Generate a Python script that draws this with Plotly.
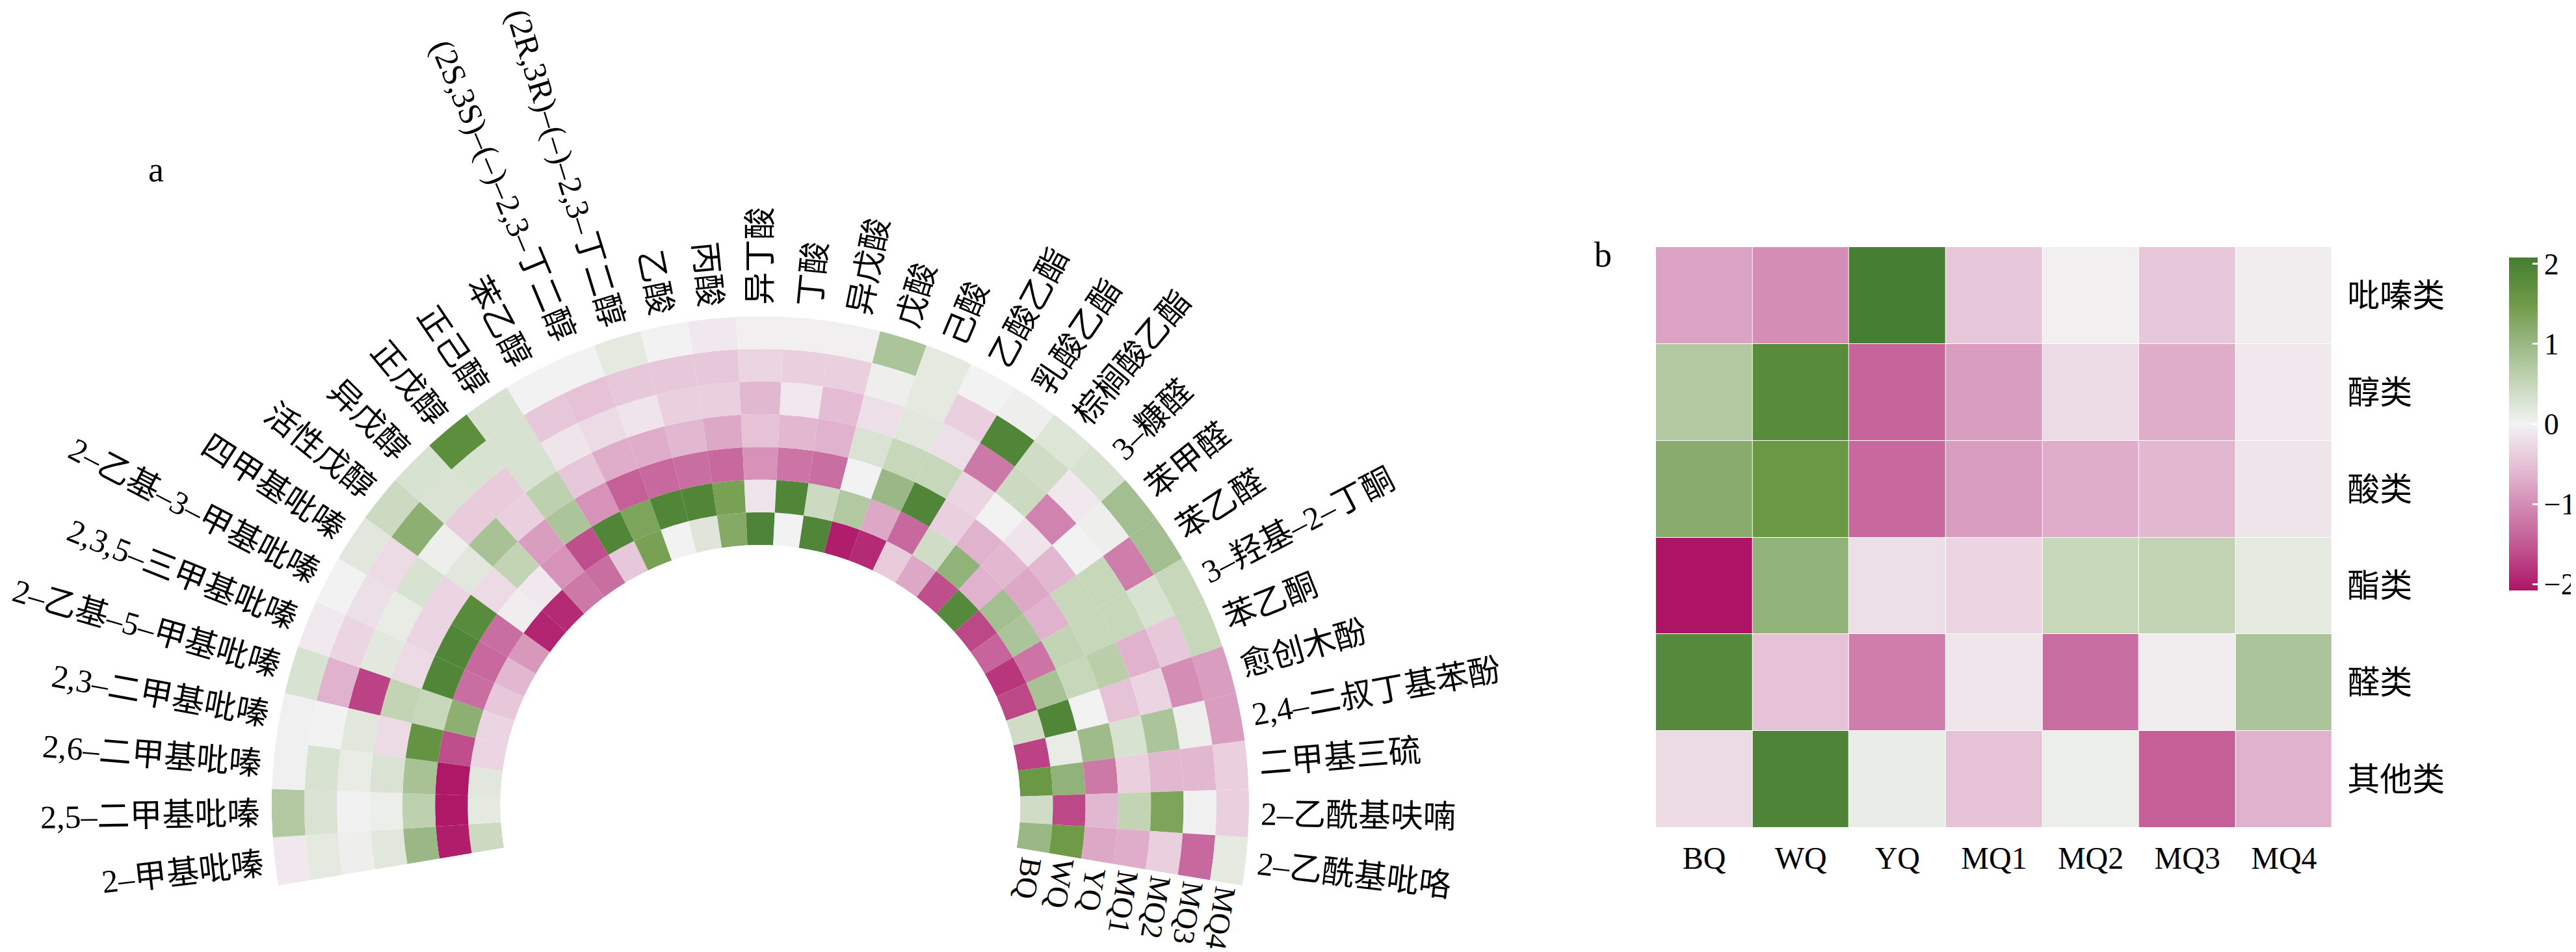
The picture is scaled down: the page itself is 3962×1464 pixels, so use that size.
import numpy as np
import plotly.graph_objects as go

# ---- data -------------------------------------------------------------
samples = ['BQ', 'WQ', 'YQ', 'MQ1', 'MQ2', 'MQ3', 'MQ4']

compounds = ['2–甲基吡嗪', '2,5–二甲基吡嗪', '2,6–二甲基吡嗪', '2,3–二甲基吡嗪',
             '2–乙基–5–甲基吡嗪', '2,3,5–三甲基吡嗪', '2–乙基–3–甲基吡嗪', '四甲基吡嗪',
             '活性戊醇', '异戊醇', '正戊醇', '正己醇', '苯乙醇',
             '(2S,3S)–(–)–2,3–丁二醇', '(2R,3R)–(–)–2,3–丁二醇',
             '乙酸', '丙酸', '异丁酸', '丁酸', '异戊酸', '戊酸', '己酸',
             '乙酸乙酯', '乳酸乙酯', '棕榈酸乙酯',
             '3–糠醛', '苯甲醛', '苯乙醛', '3–羟基–2–丁酮', '苯乙酮',
             '愈创木酚', '2,4–二叔丁基苯酚', '二甲基三硫', '2–乙酰基呋喃', '2–乙酰基吡咯']

# z-scores per sample (one value per compound, same order as above)
bq = [0.45, 0.15, 0.2, -0.3, -0.3, -0.45, -0.6, -0.9, -1.95, -1.9, -1.2, -1.3, -0.45, 1.4, 0.0,
      0.22, 1.25, 1.95, 0.0, 1.9, -2.0, -1.9, -0.4, -0.75, -1.6, 1.85, -1.65, -1.4, -1.8, -1.65,
      0.4, -1.7, 1.55, 0.4, 1.0]
wq = [-2.0, -2.05, -2.05, -1.6, 1.15, -1.3, -1.35, -1.3, -0.05, -0.1, -0.95, -1.6, 1.9, 1.35, 1.9,
      1.9, 1.4, -0.15, 1.9, 0.45, 0.75, -0.75, -1.35, 0.4, 1.1, -0.65, 0.9, 0.8, -1.25, 0.85,
      1.9, 0.12, 1.1, -1.65, 1.5]
yq = [1.0, 0.6, 0.85, 1.65, 0.5, 1.9, 1.9, 1.8, -0.25, 0.55, -0.85, 0.8, -0.95, -1.45, -1.35,
      -1.3, -1.35, -0.95, -1.25, -1.3, 0.0, 1.0, 1.9, -0.35, -0.65, -0.6, -0.75, -0.65, 0.55, 0.5,
      0.0, 0.95, -1.2, -0.6, -0.75]
mq1 = [0.2, 0.07, 0.28, -0.25, 0.55, -0.25, -0.3, -0.3, 0.2, 0.85, -0.35, 0.6, -0.45, -0.7, -0.7,
       -0.6, -0.75, -0.5, -0.6, -0.65, 0.28, 0.5, 0.5, -0.3, 0.0, -0.15, -0.6, 0.5, 0.5, 0.65,
       -0.5, 0.3, -0.35, 0.55, -0.7]
mq2 = [0.05, 0.02, 0.12, 0.2, -1.7, 0.18, 0.12, 0.3, 0.05, -0.4, -0.4, 0.3, -0.15, -0.25, -0.15,
       -0.35, -0.35, -0.6, -0.1, -0.55, -0.2, 0.2, -0.2, -1.2, 0.45, -1.1, 0.0, 0.5, 0.5, -0.65,
       -0.3, 0.8, -0.6, 1.35, -0.35]
mq3 = [0.15, 0.28, 0.3, 0.0, -0.65, -0.3, -0.2, -0.25, 1.15, 0.28, 0.3, 0.3, -0.45, -0.5, -0.45,
       -0.45, -0.45, -0.3, -0.35, -0.35, 0.05, 0.15, -0.35, 1.9, 0.4, -0.1, 0.05, -1.15, 0.3, -0.45,
       -1.0, 0.05, -0.6, 0.03, -1.35]
mq4 = [-0.1, 0.75, 0.03, 0.03, 0.3, -0.08, 0.0, 0.2, 0.45, 0.3, 1.75, 0.3, 0.0, 0.0, 0.15,
       0.0, -0.1, -0.03, -0.03, -0.03, 0.8, 0.15, 0.0, 0.05, 0.25, 0.3, 0.9, 0.9, 0.5, 0.5,
       -0.85, -0.85, -0.35, -0.35, 0.15]

# panel b: class totals (z-score per sample)
classes = ['吡嗪类', '醇类', '酸类', '酯类', '醛类', '其他类']
pyrazines = [-0.8, -1.0, 2.05, -0.45, -0.03, -0.45, -0.05]
alcohols = [0.75, 1.8, -1.4, -0.85, -0.25, -0.7, -0.1]
acids = [1.2, 1.55, -1.35, -0.85, -0.7, -0.6, -0.15]
esters = [-2.1, 1.1, -0.2, -0.3, 0.5, 0.55, 0.15]
aldehydes = [1.85, -0.5, -1.15, -0.12, -1.3, -0.05, 0.8]
others = [-0.25, 1.95, 0.1, -0.5, 0.08, -1.45, -0.65]

# ---- style / geometry -------------------------------------------------
W, H = 3962, 1464
FONT = "'Liberation Serif', 'Noto Sans CJK SC', serif"
VMIN, VMAX = -2.08, 2.08
stops = [(-2.08, '#AD1465'), (-1.5, '#C25A94'), (-1.0, '#D48DB5'), (-0.5, '#E6C2D7'),
         (0.0, '#F2F2F2'), (0.5, '#C7D7BA'), (1.0, '#9AB885'), (1.5, '#6F9B47'), (2.08, '#447D33')]
cscale = [[(v - VMIN) / (VMAX - VMIN), c] for v, c in stops]

CX, CY = 1162, 1230          # circle centre (px)
R_OUT = 752                  # outer radius (px)
HOLE = 400 / R_OUT
START, END = 189.5, -9.5     # angular extent, degrees
n = len(compounds)
step = (START - END) / n
theta = START - (np.arange(n) + 0.5) * step

rings = [bq, wq, yq, mq1, mq2, mq3, mq4]

fig = go.Figure()
for k, vals in enumerate(rings):
    fig.add_trace(go.Barpolar(
        r=[1] * n, base=[k] * n, theta=theta, width=[step] * n,
        marker=dict(color=vals, colorscale=cscale, cmin=VMIN, cmax=VMAX,
                    line=dict(width=0)),
        name=samples[k], showlegend=False, subplot='polar'))

fig.add_trace(go.Heatmap(
    z=[pyrazines, alcohols, acids, esters, aldehydes, others],
    x=samples, y=classes, colorscale=cscale, zmin=VMIN, zmax=VMAX,
    xgap=1, ygap=1,
    colorbar=dict(thickness=44, thicknessmode='pixels', len=512, lenmode='pixels',
                  x=3853 / W, xanchor='left', xpad=0, y=1 - 644 / H, yanchor='middle', ypad=0,
                  outlinewidth=0, tickvals=[-2, -1, 0, 1, 2],
                  ticktext=['−2', '−1', '0', '1', '2'],
                  ticks='inside', ticklen=8, tickwidth=3, tickcolor='white',
                  tickfont=dict(family=FONT, size=46, color='black'))))


def text_w(s, f):
    w = 0.0
    for ch in s:
        if ord(ch) > 0x2E80:
            w += 1.0
        elif ch.isdigit():
            w += 0.5
        elif ch in ',.':
            w += 0.25
        elif ch in '()':
            w += 0.333
        elif ch in '–-':
            w += 0.5
        elif ch.isupper():
            w += 0.68
        else:
            w += 0.5
    return w * f


LAB_F = 50
GAP = 18
annotations = []
for name, a in zip(compounds, theta):
    rr = R_OUT + GAP + text_w(name, LAB_F) / 2
    px = CX + rr * np.cos(np.radians(a))
    py = CY - rr * np.sin(np.radians(a))
    ang = 180 - a if a > 90.5 else -a
    annotations.append(dict(x=px / W, y=1 - py / H, xref='paper', yref='paper',
                            text=name, showarrow=False, textangle=ang,
                            xanchor='center', yanchor='middle',
                            font=dict(family=FONT, size=LAB_F, color='black')))

# sample names at the end of each ring
ring_w = (R_OUT - 400) / len(samples)
tx, ty = -np.sin(np.radians(-END)), np.cos(np.radians(-END))
for k, s in enumerate(samples):
    rk = 400 + (k + 0.5) * ring_w
    d = 12 + text_w(s, 46) / 2
    px = CX + rk * np.cos(np.radians(END)) + d * tx
    py = CY - rk * np.sin(np.radians(END)) + d * ty
    annotations.append(dict(x=px / W, y=1 - py / H, xref='paper', yref='paper',
                            text=s, showarrow=False, textangle=90 - END,
                            xanchor='center', yanchor='middle',
                            font=dict(family=FONT, size=46, color='black')))

for lab, lx, ly in [('a', 232, 253), ('b', 2459, 384)]:
    annotations.append(dict(x=lx / W, y=1 - ly / H, xref='paper', yref='paper', text=lab,
                            showarrow=False, xanchor='center', yanchor='middle',
                            font=dict(family=FONT, size=54, color='black')))

sb = np.sin(np.radians(-END))
fig.update_layout(
    width=W, height=H,
    margin=dict(l=0, r=0, t=0, b=0),
    paper_bgcolor='white', plot_bgcolor='white',
    polar=dict(
        domain=dict(x=[(CX - R_OUT) / W, (CX + R_OUT) / W],
                    y=[1 - (CY + sb * R_OUT) / H, 1 - (CY - R_OUT) / H]),
        sector=[END, START], hole=HOLE, bgcolor='white',
        radialaxis=dict(visible=False, range=[0, len(samples)]),
        angularaxis=dict(visible=False)),
    xaxis=dict(domain=[2540 / W, 3581 / W], showgrid=False, zeroline=False, ticks='',
               showline=False, ticklabelstandoff=14,
               tickfont=dict(family=FONT, size=48, color='black')),
    yaxis=dict(domain=[1 - 1265 / H, 1 - 372 / H], side='right', autorange='reversed',
               showgrid=False, zeroline=False, ticks='', showline=False,
               ticklabelstandoff=22,
               tickfont=dict(family=FONT, size=50, color='black')),
    annotations=annotations,
)

fig.write_html("out.html")
